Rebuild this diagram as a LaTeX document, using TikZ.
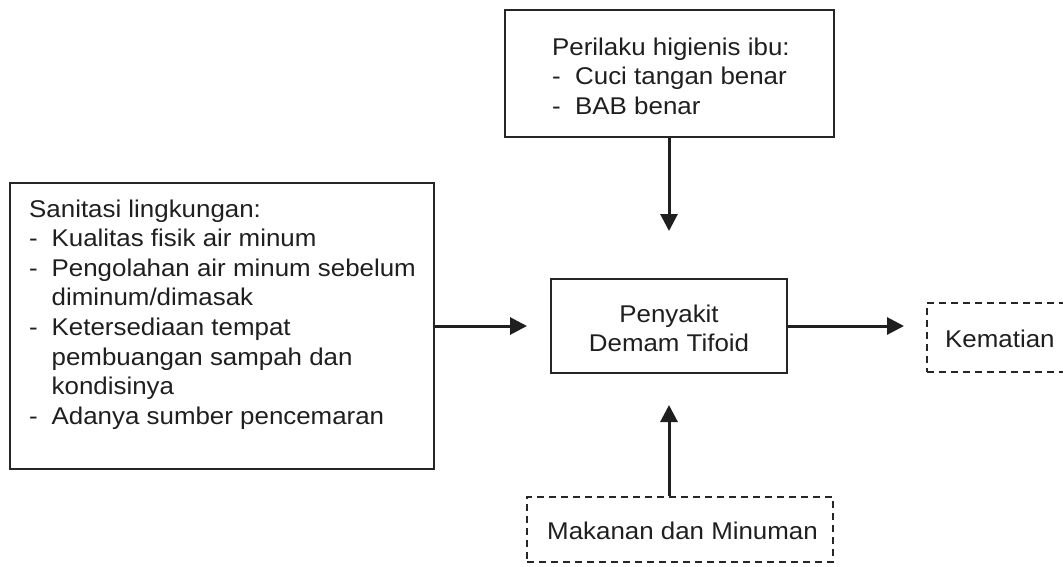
\documentclass[tikz,border=0pt]{standalone}
\usepackage{fontspec}
\setmainfont{Liberation Sans}[FakeStretch=1.07]
\usetikzlibrary{arrows.meta}
\begin{document}
\begin{tikzpicture}[x=1pt,y=-1pt,
  box/.style={draw=black!85, line width=2pt, rectangle, inner sep=0pt},
  dbox/.style={draw=black!85, line width=2pt, dash pattern=on 7pt off 5pt, rectangle, inner sep=0pt},
  txt/.style={inner sep=0pt, anchor=base west, text=black!88, font=\fontsize{24.2pt}{29.6pt}\selectfont},
  arr/.style={line width=3pt, draw=black!88, -{Triangle[length=17pt,width=17pt]}}]
\clip (0,0) rectangle (1063,566);
\fill[white] (0,0) rectangle (1063,566);
% boxes
\node[box, minimum width=329pt, minimum height=127pt] (hig) at (669,73.5) {};
\node[box, minimum width=424pt, minimum height=286pt] (san) at (222,326) {};
\node[box, minimum width=236pt, minimum height=94pt] (pen) at (669,326) {};
\node[dbox, minimum width=173pt, minimum height=69pt] (kem) at (1013.5,337.5) {};
\node[dbox, minimum width=306pt, minimum height=65pt] (mak) at (680,529.5) {};
% texts
\node[txt] (higt) at (552,55) {\parbox[t]{270pt}{\raggedright Perilaku higienis ibu:\\
\makebox[23pt][l]{-}Cuci tangan benar\\
\makebox[23pt][l]{-}BAB benar}};
\node[txt] (sant) at (29,217) {\parbox[t]{400pt}{\raggedright Sanitasi lingkungan:\\
\makebox[22.5pt][l]{-}Kualitas fisik air minum\\
\makebox[22.5pt][l]{-}Pengolahan air minum sebelum\\
\hspace*{22.5pt}diminum/dimasak\\
\makebox[22.5pt][l]{-}Ketersediaan tempat\\
\hspace*{22.5pt}pembuangan sampah dan\\
\hspace*{22.5pt}kondisinya\\
\makebox[22.5pt][l]{-}Adanya sumber pencemaran}};
\node[txt, anchor=base] (pent) at (669,322) {\parbox[t]{220pt}{\centering Penyakit\\Demam Tifoid}};
\node[txt] (kemt) at (945,347) {Kematian};
\node[txt] (makt) at (547,539) {Makanan dan Minuman};
% arrows
\draw[arr, shorten >=47pt] (hig.south) -- (pen.north);
\draw[arr, shorten >=23pt] (san.east) -- (pen.west);
\draw[arr, shorten >=22pt] (pen.east) -- (pen.east -| kem.west);
\draw[arr, shorten >=31pt] (pen.south |- mak.north) -- (pen.south);
\end{tikzpicture}
\end{document}
